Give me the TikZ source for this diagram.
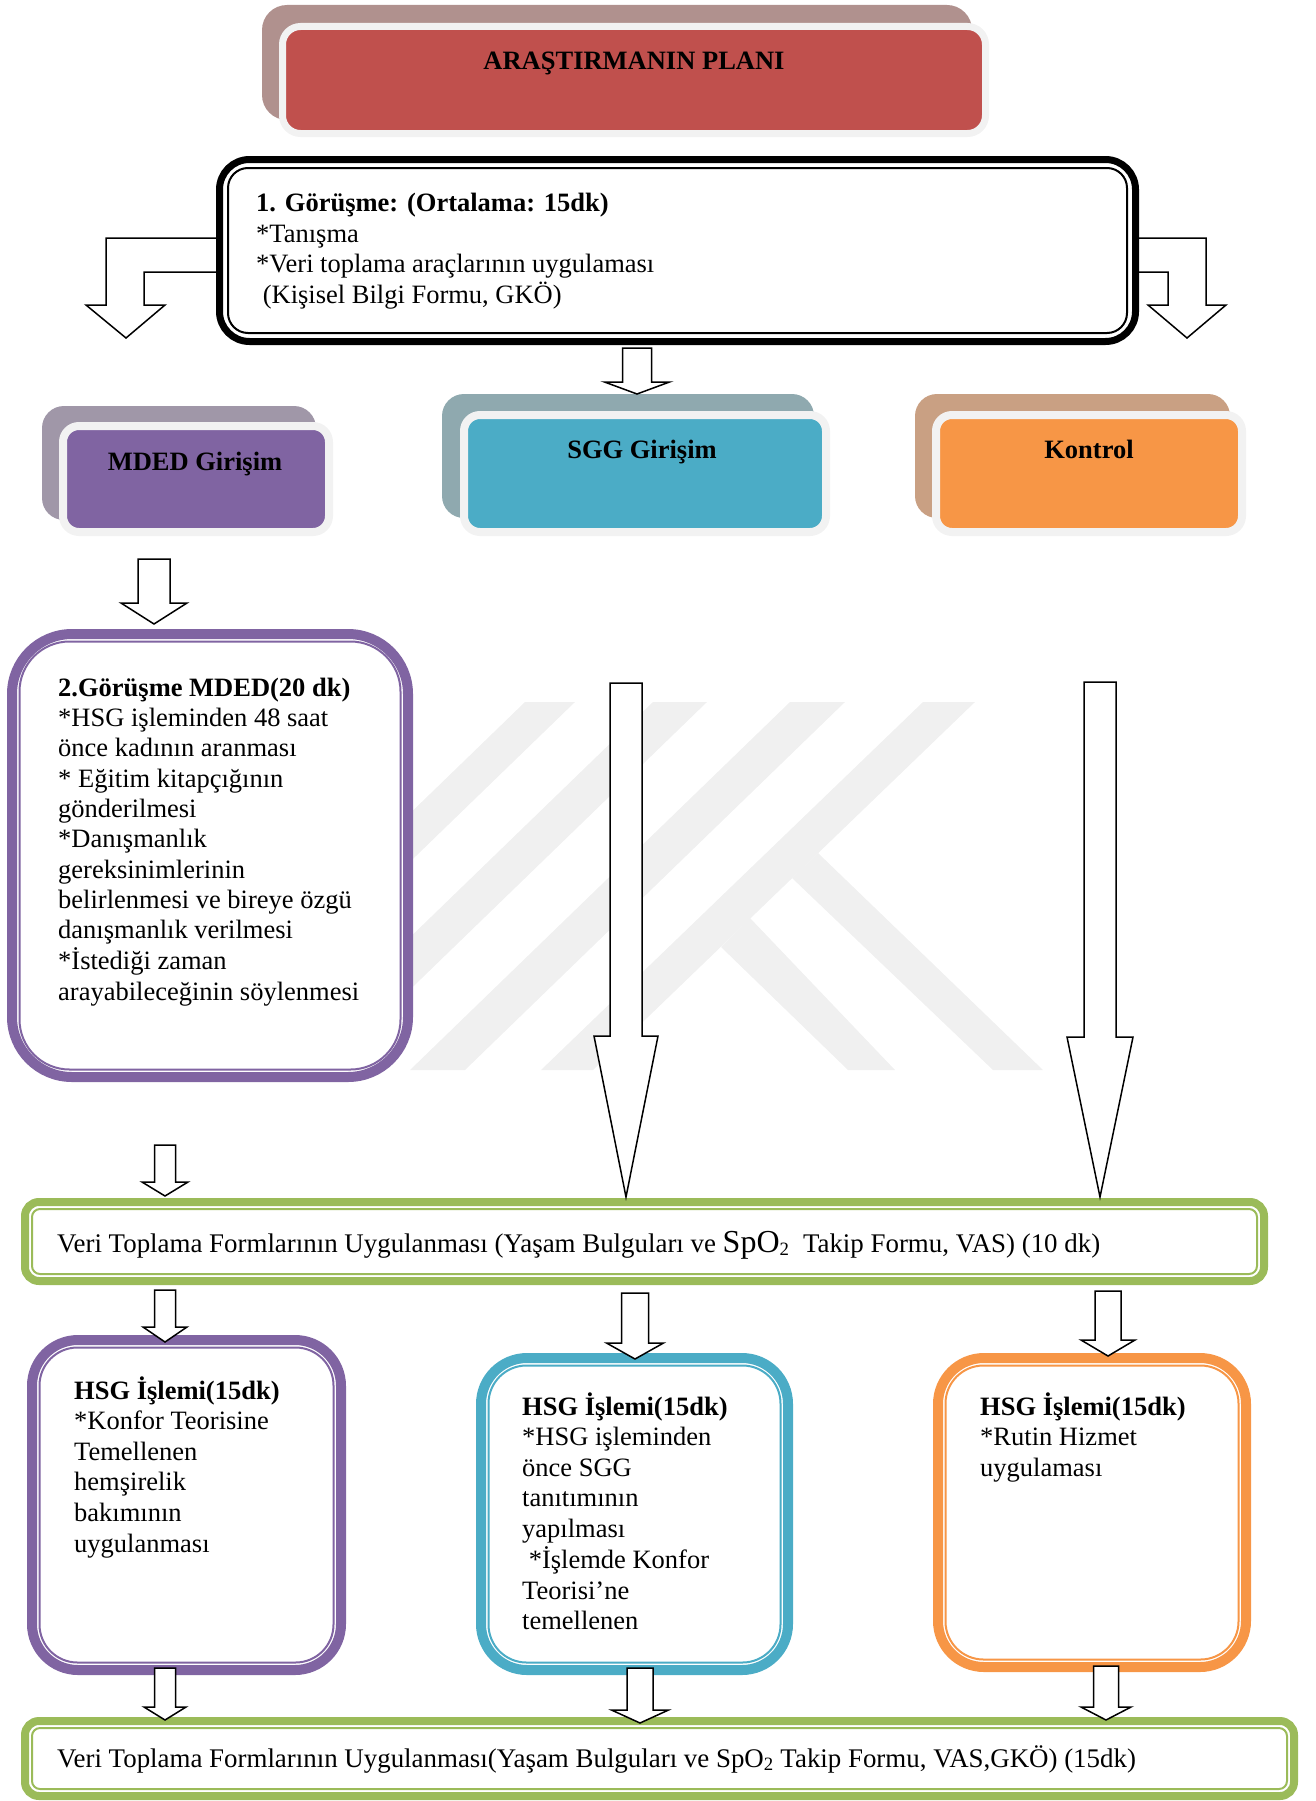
\documentclass[tikz,border=0pt]{standalone}
\usepackage{fontspec}
\setmainfont{Liberation Serif}

\definecolor{titlered}{HTML}{C0504D}
\definecolor{titleshadow}{HTML}{B0918E}
\definecolor{framegray}{HTML}{F2F2F2}
\definecolor{mdedpurple}{HTML}{8064A2}
\definecolor{mdedshadow}{HTML}{A097A8}
\definecolor{sggblue}{HTML}{4BACC6}
\definecolor{sggshadow}{HTML}{8FA9AF}
\definecolor{ctrlorange}{HTML}{F79646}
\definecolor{ctrlshadow}{HTML}{C9A083}
\definecolor{formgreen}{HTML}{9BBB59}
\definecolor{markgray}{HTML}{F0F0F0}

\newcommand\bodyfont{\fontsize{26.5}{30.6}\selectfont}
\newcommand\formfont{\fontsize{26.9}{30.6}\selectfont}
\newcommand\stacklines[1]{\begin{tabular}[t]{@{}l@{}}#1\end{tabular}}
% block arrow pointing down: centre x, shaft top, head base, tip, half shaft, half head
\newcommand\blockdown[6]{%
  \draw[blockarrow] ({#1-#5},#2) -- ({#1+#5},#2) -- ({#1+#5},#3) -- ({#1+#6},#3)
    -- (#1,#4) -- ({#1-#6},#3) -- ({#1-#5},#3) -- cycle;}

\begin{document}
\begin{tikzpicture}[x=1pt,y=-1pt,
  blockarrow/.style={draw=black, line width=1.5, fill=white, line join=miter},
  txt/.style={inner sep=0pt, anchor=base west, font=\bodyfont},
  ctxt/.style={inner sep=0pt, anchor=base, font=\bodyfont\bfseries},
  colorbox/.style={draw=framegray, line width=8, rounded corners=16},
  thickframe/.style={line width=10, fill=white},
  thinframe/.style={line width=2},
  formframe/.style={draw=formgreen, line width=8, fill=white, rounded corners=14},
  forminner/.style={draw=formgreen, line width=2, rounded corners=8}]
\useasboundingbox (0,0) rectangle (1315,1801);

% faint background logo made of slanted bands
\fill[markgray] (525,702) -- (575,702) -- (195,1070) -- (145,1070) -- cycle;
\fill[markgray] (653,702) -- (707,702) -- (327,1070) -- (273,1070) -- cycle;
\fill[markgray] (790,702) -- (845,702) -- (465,1070) -- (410,1070) -- cycle;
\fill[markgray] (923,702) -- (975,702) -- (593,1070) -- (541,1070) -- cycle;
\fill[markgray] (818,853) -- (1043,1070) -- (993,1070) -- (792,878) -- cycle;
\fill[markgray] (750,918) -- (895,1070) -- (848,1070) -- (721,947) -- cycle;

% title
\fill[titleshadow, rounded corners=25] (262,5) rectangle (972,120);
\draw[draw=framegray, line width=7, fill=titlered, rounded corners=18] (282.5,26.5) rectangle (985.5,133.5);
\node[ctxt] (title) at (634,70) {ARAŞTIRMANIN PLANI};

% bent arrows leaving the first interview box
\draw[blockarrow] (222,238) -- (106,238) -- (106,305) -- (86,305) -- (126,338)
  -- (165,305) -- (144,305) -- (144,272) -- (222,272) -- cycle;
\draw[blockarrow] (1133,238) -- (1206,238) -- (1206,305) -- (1226,305) -- (1187,338)
  -- (1148,305) -- (1168,305) -- (1168,272) -- (1133,272) -- cycle;

% first interview box
\draw[line width=7, fill=white, rounded corners=30] (219.5,159.5) rectangle (1135.5,341.5);
\draw[line width=2, rounded corners=20] (228,168) rectangle (1127,333);
\node[txt] (gorusme1) at (256,211.5) {\stacklines{%
  \textbf{1. Görüşme: (Ortalama: 15dk)}\\
  {}*Tanışma\\
  {}*Veri toplama araçlarının uygulaması\\
  \ (Kişisel Bilgi Formu, GKÖ)}};

% group boxes
\fill[mdedshadow, rounded corners=22] (42,406) rectangle (316,520);
\draw[colorbox, fill=mdedpurple] (63,426) rectangle (329,532);
\node[ctxt] (mded) at (195,470) {MDED Girişim};

\fill[sggshadow, rounded corners=22] (442,394) rectangle (814,518);
\draw[colorbox, fill=sggblue] (464,415) rectangle (826,532);
\node[ctxt] (sgg) at (642,458) {SGG Girişim};

\fill[ctrlshadow, rounded corners=22] (915,394) rectangle (1230,518);
\draw[colorbox, fill=ctrlorange] (936,415) rectangle (1242,532);
\node[ctxt] (kontrol) at (1089,458) {Kontrol};

% second interview box (MDED)
\draw[thickframe, draw=mdedpurple, rounded corners=60] (12,634) rectangle (408,1077);
\draw[thinframe, draw=mdedpurple, rounded corners=50] (19.5,641.5) rectangle (400.5,1069.5);
\node[txt] (gorusme2) at (58,696) {\fontsize{26.5}{30.35}\selectfont\stacklines{%
  \textbf{2.Görüşme MDED(20 dk)}\\
  {}*HSG işleminden 48 saat\\
  önce kadının aranması\\
  {}* Eğitim kitapçığının\\
  gönderilmesi\\
  {}*Danışmanlık\\
  gereksinimlerinin\\
  belirlenmesi ve bireye özgü\\
  danışmanlık verilmesi\\
  {}*İstediği zaman\\
  arayabileceğinin söylenmesi}};

% first data collection form
\draw[formframe] (25,1202) rectangle (1264,1281);
\draw[forminner] (32,1209) rectangle (1257,1274);
\node[txt, font=\formfont] (veri1) at (57,1252) {Veri Toplama Formlarının Uygulanması (Yaşam Bulguları ve
  {\fontsize{32}{34}\selectfont SpO}\textsubscript{2}\ \ Takip Formu, VAS) (10 dk)};

% HSG procedure boxes
\draw[thickframe, draw=mdedpurple, rounded corners=46] (32,1340) rectangle (341,1670);
\draw[thinframe, draw=mdedpurple, rounded corners=38] (39.5,1347.5) rectangle (333.5,1662.5);
\node[txt] (hsgL) at (74,1399) {\stacklines{%
  \textbf{HSG İşlemi(15dk)}\\
  {}*Konfor Teorisine\\
  Temellenen\\
  hemşirelik\\
  bakımının\\
  uygulanması}};

\draw[thickframe, draw=sggblue, rounded corners=46] (481,1358) rectangle (788,1670);
\draw[thinframe, draw=sggblue, rounded corners=38] (488.5,1365.5) rectangle (780.5,1662.5);
\node[txt] (hsgM) at (522,1415) {\stacklines{%
  \textbf{HSG İşlemi(15dk)}\\
  {}*HSG işleminden\\
  önce SGG\\
  tanıtımının\\
  yapılması\\
  \ *İşlemde Konfor\\
  Teorisi’ne\\
  temellenen}};

\draw[thickframe, draw=ctrlorange, rounded corners=46] (938,1358) rectangle (1246,1667);
\draw[thinframe, draw=ctrlorange, rounded corners=38] (945.5,1365.5) rectangle (1238.5,1659.5);
\node[txt] (hsgR) at (980,1415) {\stacklines{%
  \textbf{HSG İşlemi(15dk)}\\
  {}*Rutin Hizmet\\
  uygulaması}};

% second data collection form
\draw[formframe] (25,1721) rectangle (1294,1796);
\draw[forminner] (32,1728) rectangle (1287,1789);
\node[txt, font=\formfont] (veri2) at (57,1767) {Veri Toplama Formlarının Uygulanması(Yaşam Bulguları ve
  SpO\textsubscript{2} Takip Formu, VAS,GKÖ) (15dk)};

% straight block arrows
\blockdown{637}{348}{382}{394}{14.5}{32.5}
\blockdown{154}{559}{603}{624}{16}{33}
\blockdown{626}{683}{1036}{1197}{16}{32}
\blockdown{1100}{682}{1037}{1197}{16}{33}
\blockdown{165}{1145}{1182}{1196}{10.5}{23}
\blockdown{165}{1290}{1327}{1342}{10.5}{22}
\blockdown{635}{1293}{1343}{1359}{13.5}{28.5}
\blockdown{1108}{1291}{1340}{1356}{13}{27}
\blockdown{165}{1668}{1707}{1720}{10.5}{21}
\blockdown{640}{1668}{1710}{1723}{13}{28.5}
\blockdown{1106}{1666}{1707}{1720}{12.5}{25}
\end{tikzpicture}
\end{document}
